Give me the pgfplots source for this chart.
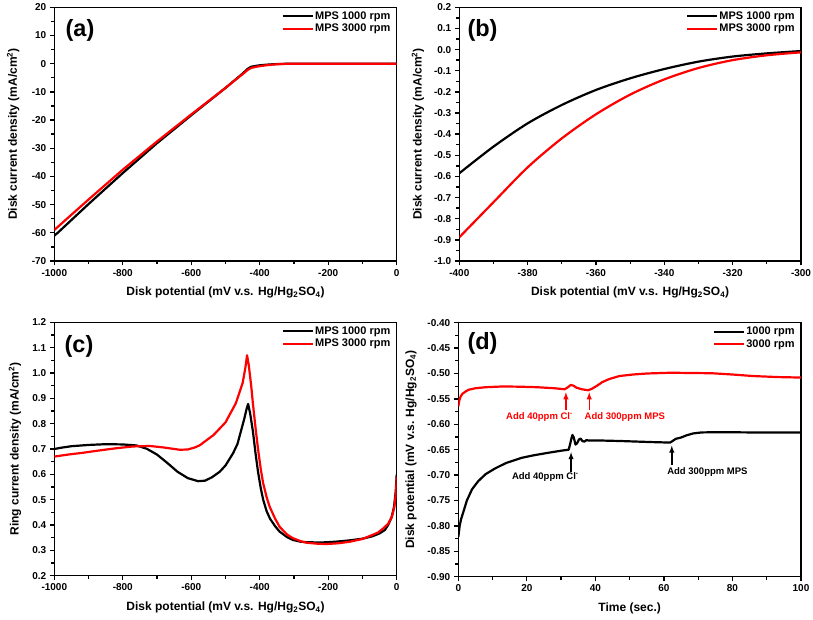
\documentclass[border=0pt]{standalone}
\usepackage{fontspec}
\setmainfont{Liberation Sans}
\usepackage{pgfplots}
\pgfplotsset{compat=1.18}

\pgfplotsset{
  panel/.style={
    scale only axis,
    axis line style={line width=1.5pt},
    tick pos=left, tick align=outside,
    major tick length=4.5pt, minor tick length=3pt,
    every tick/.style={line width=1.3pt, black},
    minor tick num=1,
    tick label style={font=\fontsize{10}{11}\selectfont\bfseries},
    label style={font=\fontsize{12}{13}\selectfont\bfseries},
    xlabel style={at={(axis description cs:0.5,-0.125)}, anchor=center},
    legend style={draw=none, fill=none, inner sep=0pt,
      at={(axis description cs:1,1)}, anchor=north east, xshift=-5pt, yshift=-3pt,
      font=\fontsize{11}{12}\selectfont\bfseries, row sep=1pt,
      nodes={inner sep=1.2pt}},
    legend cell align=left,
    legend image code/.code={\draw[#1] (0pt,0pt) -- (30pt,0pt);},
    every axis plot/.append style={line width=2.2pt, line join=round},
  },
}
\newcommand{\hgso}{(mV v.s. Hg/Hg\textsubscript{2}SO\textsubscript{4})}
\newcommand{\plab}{\fontsize{23.5}{24}\selectfont\bfseries}

\begin{document}
\begin{tikzpicture}
\useasboundingbox (0,0) rectangle (813pt,620pt);

% ---------------- (a) ----------------
\begin{axis}[panel, name=a, at={(54.3pt,359pt)}, width=342.4pt, height=253.7pt,
  xmin=-1000, xmax=0, ymin=-70, ymax=20,
  xtick={-1000,-800,-600,-400,-200,0},
  xticklabels={-1000,-800,-600,-400,-200,0},
  ytick={-70,-60,-50,-40,-30,-20,-10,0,10,20},
  yticklabels={-70,-60,-50,-40,-30,-20,-10,0,10,20},
  xlabel={Disk potential \hgso},
  ylabel={Disk current density (mA/cm\textsuperscript{2})},
  ylabel style={at={(axis description cs:-0.12,0.5)}, anchor=center},
]
\addplot[black] coordinates {(-1000,-61.0) (-990,-60.0) (-900,-49.8) (-800,-38.8) (-700,-28.2) (-600,-18.3) (-500,-8.6) (-450,-3.5) (-435,-1.8) (-425,-1.1) (-410,-0.75) (-400,-0.58) (-380,-0.35) (-360,-0.19) (-340,-0.09) (-320,-0.035) (-300,-0.007) (-250,0) (0,0)};
\addlegendentry{MPS 1000 rpm}
\addplot[red] coordinates {(-1000,-59.0) (-900,-48.2) (-800,-37.6) (-700,-27.6) (-600,-18.0) (-500,-8.6) (-450,-3.7) (-435,-2.2) (-425,-1.5) (-410,-1.1) (-400,-0.88) (-380,-0.55) (-360,-0.30) (-340,-0.14) (-320,-0.05) (-300,-0.013) (-250,0) (0,0)};
\addlegendentry{MPS 3000 rpm}
\end{axis}
\node[font=\plab] at ([xshift=25.7pt,yshift=-22.7pt]a.north west) {(a)};

% ---------------- (b) ----------------
\begin{axis}[panel, name=b, at={(459.3pt,359pt)}, width=341.7pt, height=253.7pt,
  xmin=-400, xmax=-300, ymin=-1, ymax=0.2,
  xtick={-400,-380,-360,-340,-320,-300},
  xticklabels={-400,-380,-360,-340,-320,-300},
  ytick={-1,-0.9,-0.8,-0.7,-0.6,-0.5,-0.4,-0.3,-0.2,-0.1,0,0.1,0.2},
  yticklabels={-1.0,-0.9,-0.8,-0.7,-0.6,-0.5,-0.4,-0.3,-0.2,-0.1,0.0,0.1,0.2},
  xlabel={Disk potential \hgso},
  ylabel={Disk current density (mA/cm\textsuperscript{2})},
  ylabel style={at={(axis description cs:-0.121,0.5)}, anchor=center},
]
\addplot[black, smooth] coordinates {(-400,-0.585) (-390,-0.459) (-380,-0.349) (-370,-0.262) (-360,-0.191) (-350,-0.136) (-340,-0.092) (-330,-0.057) (-320,-0.033) (-310,-0.018) (-300,-0.007)};
\addlegendentry{MPS 1000 rpm}
\addplot[red, smooth] coordinates {(-400,-0.888) (-390,-0.722) (-380,-0.557) (-370,-0.420) (-360,-0.306) (-350,-0.213) (-340,-0.141) (-330,-0.087) (-320,-0.050) (-310,-0.027) (-300,-0.013)};
\addlegendentry{MPS 3000 rpm}
\end{axis}
\node[font=\plab] at ([xshift=23.2pt,yshift=-22.7pt]b.north west) {(b)};

% ---------------- (c) ----------------
\begin{axis}[panel, name=c, at={(54.3pt,44.3pt)}, width=342.4pt, height=253.4pt,
  xmin=-1000, xmax=0, ymin=0.2, ymax=1.2,
  xtick={-1000,-800,-600,-400,-200,0},
  xticklabels={-1000,-800,-600,-400,-200,0},
  ytick={0.2,0.3,0.4,0.5,0.6,0.7,0.8,0.9,1.0,1.1,1.2},
  yticklabels={0.2,0.3,0.4,0.5,0.6,0.7,0.8,0.9,1.0,1.1,1.2},
  xlabel={Disk potential \hgso},
  ylabel={Ring current density (mA/cm\textsuperscript{2})},
  ylabel style={at={(axis description cs:-0.115,0.5)}, anchor=center},
]
\addplot[black] coordinates {(-1000,0.700) (-980,0.705) (-950,0.711) (-900,0.716) (-850,0.719) (-800,0.718) (-760,0.714) (-730,0.701) (-700,0.678) (-670,0.645) (-640,0.610) (-610,0.585) (-580,0.573) (-560,0.575) (-540,0.588) (-517,0.610) (-500,0.635) (-478,0.683) (-465,0.720) (-454,0.775) (-445,0.820) (-439,0.855) (-434,0.878) (-428,0.840) (-420,0.770) (-412,0.680) (-405,0.610) (-397,0.545) (-390,0.500) (-380,0.455) (-370,0.425) (-355,0.395) (-342,0.374) (-320,0.352) (-303,0.341) (-280,0.334) (-260,0.332) (-220,0.331) (-180,0.334) (-140,0.339) (-100,0.346) (-70,0.356) (-50,0.367) (-35,0.380) (-25,0.400) (-15,0.430) (-8,0.470) (-3,0.530) (0,0.600)};
\addlegendentry{MPS 1000 rpm}
\addplot[red] coordinates {(-1000,0.670) (-960,0.678) (-917,0.685) (-870,0.694) (-819,0.703) (-770,0.710) (-722,0.712) (-680,0.706) (-634,0.697) (-610,0.698) (-590,0.706) (-576,0.714) (-535,0.755) (-500,0.805) (-470,0.880) (-450,0.960) (-442,1.020) (-437,1.070) (-432,1.030) (-425,0.950) (-420,0.880) (-412,0.780) (-405,0.700) (-397,0.620) (-390,0.565) (-380,0.510) (-371,0.472) (-355,0.425) (-342,0.393) (-320,0.362) (-303,0.348) (-280,0.336) (-263,0.330) (-230,0.326) (-205,0.325) (-170,0.328) (-137,0.334) (-100,0.345) (-78,0.357) (-55,0.370) (-39,0.387) (-25,0.405) (-14,0.433) (-7,0.470) (-2,0.530) (0,0.590)};
\addlegendentry{MPS 3000 rpm}
\end{axis}
\node[font=\plab] at ([xshift=24.7pt,yshift=-23.7pt]c.north west) {(c)};

% ---------------- (d) ----------------
\begin{axis}[panel, name=d, at={(458.3pt,43.3pt)}, width=342.7pt, height=254pt,
  xmin=0, xmax=100, ymin=-0.9, ymax=-0.4,
  xtick={0,20,40,60,80,100},
  xticklabels={0,20,40,60,80,100},
  ytick={-0.9,-0.85,-0.8,-0.75,-0.7,-0.65,-0.6,-0.55,-0.5,-0.45,-0.4},
  yticklabels={-0.90,-0.85,-0.80,-0.75,-0.70,-0.65,-0.60,-0.55,-0.50,-0.45,-0.40},
  xlabel={Time (sec.)},
  ylabel={Disk potential \hgso},
  ylabel style={at={(axis description cs:-0.138,0.5)}, anchor=center},
]
\addplot[black] coordinates {(0,-0.822) (0.4,-0.800) (0.8,-0.787) (1.5,-0.772) (2.5,-0.750) (4,-0.728) (5.8,-0.712) (8,-0.698) (10.7,-0.687) (14,-0.676) (18.5,-0.666) (22,-0.661) (26.3,-0.656) (30,-0.652) (32.2,-0.650) (32.6,-0.640) (33.0,-0.628) (33.3,-0.621) (33.7,-0.626) (34.2,-0.640) (34.7,-0.637) (35.2,-0.630) (35.7,-0.628) (36.2,-0.633) (36.8,-0.634) (37.4,-0.631) (38,-0.632) (42,-0.632) (47.7,-0.633) (52,-0.634) (56.4,-0.635) (61.8,-0.636) (62.5,-0.633) (63.5,-0.6285) (65,-0.626) (66.5,-0.622) (68.5,-0.618) (71,-0.616) (76,-0.6155) (85,-0.616) (100,-0.616)};
\addlegendentry{1000 rpm}
\addplot[red] coordinates {(0,-0.565) (0.3,-0.553) (0.7,-0.545) (1.2,-0.540) (2,-0.536) (3,-0.532) (5,-0.529) (8,-0.527) (13,-0.5255) (18,-0.526) (23,-0.527) (28,-0.529) (31,-0.531) (32,-0.527) (32.8,-0.5225) (33.6,-0.524) (34.5,-0.528) (36,-0.531) (37.9,-0.533) (39,-0.530) (40.5,-0.524) (42,-0.517) (44,-0.511) (47,-0.505) (51,-0.502) (55,-0.500) (62,-0.4985) (68,-0.499) (74,-0.4995) (80,-0.502) (86,-0.505) (93,-0.507) (100,-0.508)};
\addlegendentry{3000 rpm}
\draw[red, line width=1.4pt, -latex] (axis cs:31.4,-0.572) -- (axis cs:31.4,-0.537);
\draw[red, line width=1.4pt, -latex] (axis cs:38.2,-0.572) -- (axis cs:38.2,-0.537);
\draw[black, line width=1.4pt, -latex] (axis cs:32.9,-0.693) -- (axis cs:32.9,-0.655);
\draw[black, line width=1.4pt, -latex] (axis cs:62.3,-0.680) -- (axis cs:62.3,-0.642);
\node[red, font=\fontsize{9.5}{10}\selectfont\bfseries] at (axis cs:23.7,-0.5856) {Add 40ppm Cl\textsuperscript{-}};
\node[red, font=\fontsize{9.5}{10}\selectfont\bfseries] at (axis cs:48.6,-0.5856) {Add 300ppm MPS};
\node[black, font=\fontsize{9.5}{10}\selectfont\bfseries] at (axis cs:25.4,-0.704) {Add 40ppm Cl\textsuperscript{-}};
\node[black, font=\fontsize{9.5}{10}\selectfont\bfseries] at (axis cs:72.7,-0.6945) {Add 300ppm MPS};
\end{axis}
\node[font=\plab] at ([xshift=24.2pt,yshift=-21pt]d.north west) {(d)};
\end{tikzpicture}
\end{document}
